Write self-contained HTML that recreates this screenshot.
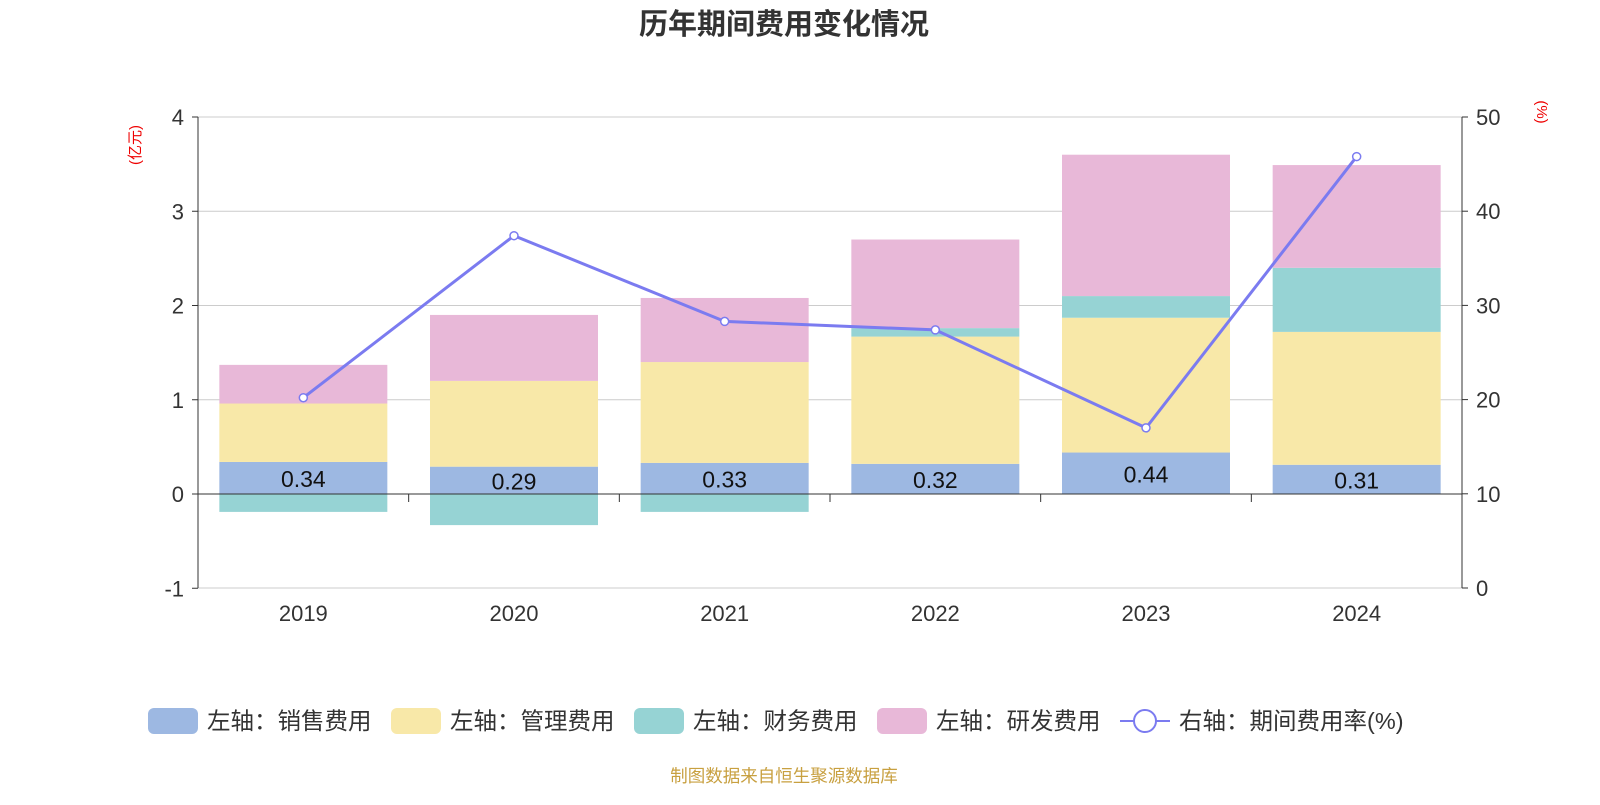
<!DOCTYPE html>
<html><head><meta charset="utf-8"><style>
body{margin:0;background:#fff;font-family:"Liberation Sans","Noto Sans CJK SC",sans-serif}
</style></head><body>
<svg width="1600" height="800" xmlns="http://www.w3.org/2000/svg" id="chart" style="font-family:'Liberation Sans','Noto Sans CJK SC',sans-serif">
<text x="784" y="34" text-anchor="middle" font-size="29" font-weight="bold" fill="#333">历年期间费用变化情况</text>
<text transform="translate(140,145) rotate(-90)" text-anchor="middle" font-size="15" fill="#e00">(亿元)</text>
<text transform="translate(1537,112) rotate(90)" text-anchor="middle" font-size="15" fill="#e00">(%)</text>
<g id="grid"></g><g id="bars"></g><g id="axes"></g><g id="line"></g>
<g font-size="23.5" fill="#333">
<rect x="148" y="708" width="50" height="26" rx="6" fill="#9db8e2"/><text x="207" y="729">左轴：销售费用</text>
<rect x="391" y="708" width="50" height="26" rx="6" fill="#f8e8a8"/><text x="450" y="729">左轴：管理费用</text>
<rect x="634" y="708" width="50" height="26" rx="6" fill="#96d3d4"/><text x="693" y="729">左轴：财务费用</text>
<rect x="877" y="708" width="50" height="26" rx="6" fill="#e8b8d8"/><text x="936" y="729">左轴：研发费用</text>
<line x1="1120" y1="721" x2="1170" y2="721" stroke="#7b7bf0" stroke-width="2"/><circle cx="1145" cy="721" r="11" fill="#fff" stroke="#7b7bf0" stroke-width="2"/><text x="1179" y="729">右轴：期间费用率(%)</text>
</g>
<text x="784" y="782" text-anchor="middle" font-size="17.5" fill="#c8a040">制图数据来自恒生聚源数据库</text>
</svg>
<script>
const categories=["2019","2020","2021","2022","2023","2024"];
const sales=[0.34,0.29,0.33,0.32,0.44,0.31];
const mgmt=[0.62,0.91,1.07,1.35,1.43,1.41];
const finance=[-0.19,-0.33,-0.19,0.09,0.23,0.68];
const rd=[0.41,0.70,0.68,0.94,1.50,1.09];
const rate=[20.2,37.4,28.3,27.4,17.0,45.8];
const leftTicks=[-1,0,1,2,3,4];
const rightTicks=[0,10,20,30,40,50];
const NS="http://www.w3.org/2000/svg";
const X0=198,X1=1462,band=(X1-X0)/categories.length,barW=168;
const yL=v=>494-v*94.25;
const yR=v=>588-v*9.42;
const xC=i=>X0+band*(i+0.5);
function mk(tag,attrs,parent){const e=document.createElementNS(NS,tag);for(const k in attrs)e.setAttribute(k,attrs[k]);document.getElementById(parent).appendChild(e);return e;}
leftTicks.forEach(t=>{
 if(t!==0&&t!==-1){const g=mk('line',{x1:X0,x2:X1,y1:yL(t),y2:yL(t),stroke:'#ccc','stroke-width':1},'grid');
 
 }
 const l=mk('text',{x:X0-14,y:yL(t)+8,'text-anchor':'end','font-size':22,fill:'#333'},'axes');l.textContent=t;
 
 
 mk('line',{x1:X0-6,x2:X0,y1:yL(t),y2:yL(t),stroke:'#333'},'axes');
});
mk('line',{x1:X0,x2:X1,y1:588,y2:588,stroke:'#ccc'},'grid');
rightTicks.forEach(t=>{
 const l=mk('text',{x:X1+14,y:yR(t)+8,'font-size':22,fill:'#333'},'axes');l.textContent=t;
 
 
 mk('line',{x1:X1,x2:X1+6,y1:yR(t),y2:yR(t),stroke:'#333'},'axes');
});
mk('line',{x1:X0,x2:X0,y1:117,y2:588,stroke:'#333'},'axes');
mk('line',{x1:X1,x2:X1,y1:117,y2:588,stroke:'#333'},'axes');
mk('line',{x1:X0,x2:X1,y1:yL(0),y2:yL(0),stroke:'#333'},'axes');
categories.forEach((c,i)=>{
 mk('line',{x1:X0+band*(i+1),x2:X0+band*(i+1),y1:yL(0),y2:yL(0)+8,stroke:'#333'},'axes');
 const l=mk('text',{x:xC(i),y:621,'text-anchor':'middle','font-size':22,fill:'#333'},'axes');l.textContent=c;
 
 
 let pos=0,neg=0;
 const series=[[sales,'#9db8e2','sales'],[mgmt,'#f8e8a8','mgmt'],[finance,'#96d3d4','finance'],[rd,'#e8b8d8','rd']];
 series.forEach(([arr,col,nm])=>{
  const v=arr[i];let a,b;
  if(v>=0){a=pos;b=pos+v;pos=b;}else{a=neg;b=neg+v;neg=b;}
  const r=mk('rect',{x:xC(i)-barW/2,width:barW,y:Math.min(yL(a),yL(b)),height:Math.abs(yL(a)-yL(b)),fill:col},'bars');
  
  
 });
 const t=mk('text',{x:xC(i),y:(yL(0)+yL(sales[i]))/2+9,'text-anchor':'middle','font-size':23,fill:'#111'},'bars');t.textContent=sales[i].toFixed(2);
 
 
});
const p=mk('polyline',{points:rate.map((v,i)=>xC(i)+','+yR(v)).join(' '),fill:'none',stroke:'#7b7bf0','stroke-width':3},'line');


rate.forEach((v,i)=>{const c=mk('circle',{cx:xC(i),cy:yR(v),r:4,fill:'#fff',stroke:'#7b7bf0','stroke-width':1.5},'line');
 
 });
</script>
</body></html>
